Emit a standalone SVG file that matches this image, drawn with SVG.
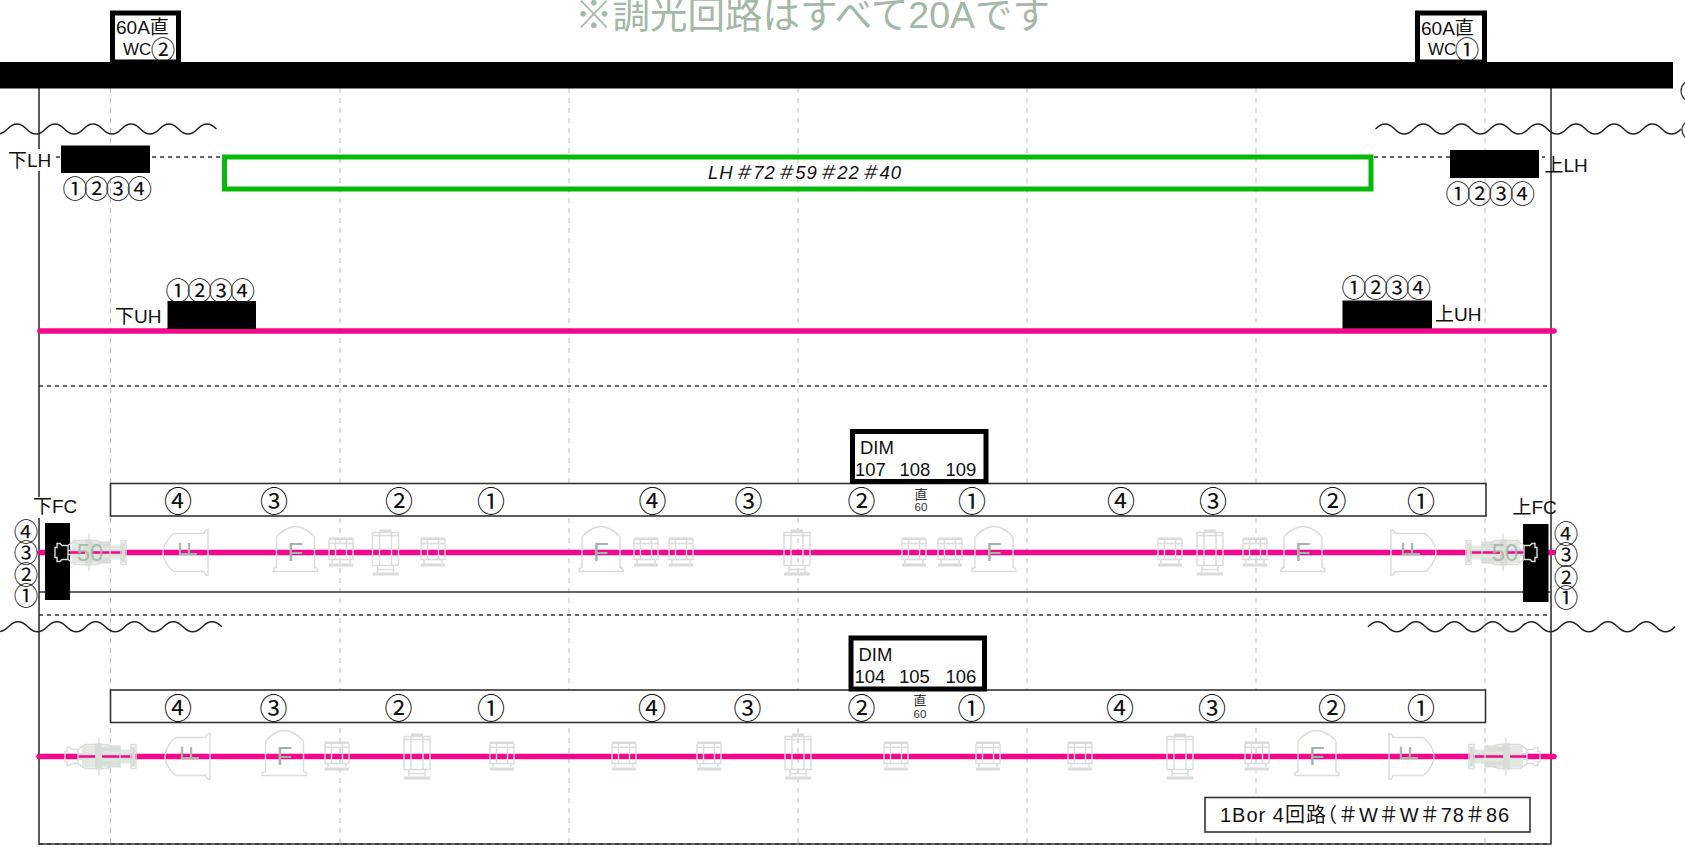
<svg xmlns="http://www.w3.org/2000/svg" width="1685" height="847" viewBox="0 0 1685 847">
<style>
text{font-family:"Liberation Sans","Noto Sans CJK JP",sans-serif;fill:#111}
.lb{font-size:19px}
.wc{font-size:17px}
.c{font-family:"Noto Sans CJK JP","Liberation Sans",sans-serif;font-size:28px;text-anchor:middle}
.cf{font-family:"Noto Sans CJK JP","Liberation Sans",sans-serif;font-size:24.500px;text-anchor:middle}
.c4{font-family:"Noto Sans CJK JP","Liberation Sans",sans-serif;font-size:25px;letter-spacing:-3.500px}
.d{font-size:18.500px}
.s{font-size:11.500px;text-anchor:middle;fill:#333}
.s2{font-size:13px;text-anchor:middle;fill:#333}
.fx *{stroke:#d6ded5;fill:none;stroke-width:1.400}
.fx .sol{fill:#d6ded5;stroke:none}
.fx .band{fill:#e3e8e2;stroke:none}
.gl{fill:#a3b4a6;font-size:26px}
.g5{fill:#a3b4a6;font-size:24px;text-anchor:middle;opacity:.85}
.gv{stroke:#bdbdbd;stroke-width:1;stroke-dasharray:5 5;fill:none}
.blk{fill:#000}
.bx{fill:#fff;stroke:#000;stroke-width:5}
.row{fill:#fff;stroke:#333;stroke-width:1.600}
.pink{stroke:#f5078c;stroke-width:5.500;stroke-linecap:round;fill:none}
.ln{stroke:#333;stroke-width:1.600;fill:none}
.dash{stroke:#333;stroke-width:1.400;stroke-dasharray:4 4;fill:none}
.wave{stroke:#222;stroke-width:1.400;fill:none}
</style>
<defs>
<g id="sm" class="fx">
<rect class="sol" x="-12" y="-15" width="24" height="2.500"/>
<path d="M-12,-13V7H12V-13M-5.500,-13V7M5.500,-13V7M-12,-9H12M-9,7V11M9,7V11"/>
<rect class="sol" x="-12" y="11" width="24" height="3"/>
</g>
<g id="tl" class="fx">
<rect class="sol" x="-6" y="-23" width="12" height="2.500"/>
<path d="M-13,-20H13V13H-13ZM-13,-17H13M-6,-20V13M6,-20V13M-8,13V20M8,13V20M-8,17H8"/>
<rect class="sol" x="-13" y="20" width="26" height="3"/>
</g>
<g id="fl" class="fx">
<path d="M-22,19Q-23,16 -19,15V-15Q-16,-20 -8,-24Q0,-28 8,-24Q16,-20 19,-15V15Q23,16 22,19Z"/>
</g>
<g id="ln" class="fx">
<path d="M19,-23Q16,-23 15,-19H-15Q-20,-16 -24,-8Q-28,0 -24,8Q-20,16 -15,19H15Q16,23 19,23Z"/>
</g>
<g id="fifty" class="fx">
<rect class="band" x="17" y="-11" width="38" height="9"/>
<rect class="band" x="17" y="2" width="38" height="9"/>
<rect class="sol" x="36" y="-9" width="19" height="4"/>
<rect class="sol" x="36" y="5" width="19" height="4"/>
<rect class="sol" x="30" y="-13" width="7" height="26"/>
<rect class="sol" x="67" y="-10" width="3" height="20"/>
<rect class="band" x="55" y="-7" width="12" height="5"/>
<rect class="band" x="55" y="2" width="12" height="5"/>
<path d="M13,-7H7L5,-9H2V-5H0V5H2V9H5L7,7H13M13,-7L20,-12H42L46,-10H55V10H46L42,12H20L13,7ZM34,-19V19M13,-2H66M13,2H66M66,-12H71V12H66Z"/>
</g>
</defs>
<rect width="1685" height="847" fill="#fff"/>
<g id="connectors">
<path class="gv" d="M110.500,88V847M340,88V847M569,88V847M798,88V847M1027,88V847M1256,88V847M1485,88V847"/>
<path class="ln" d="M39,88V844H1551V88"/>
<path class="dash" d="M39,844H1551M39,386H1551M39,615H1551M56,157H222M1374,157H1545"/>
<path class="ln" d="M39,592H1551"/>
<path class="wave" d="M-11.500,129q9.500,10 19,0t19,0t19,0t19,0t19,0t19,0t19,0t19,0t19,0t19,0t19,0t19,0"/>
<path class="wave" d="M1375.500,129q9.550,-10 19.100,0t19.100,0t19.100,0t19.100,0t19.100,0t19.100,0t19.100,0t19.100,0t19.100,0t19.100,0t19.100,0t19.100,0t19.100,0t19.100,0t19.100,0t19.100,0"/>
<path class="wave" d="M-11,626.700q9.700,10 19.400,0t19.400,0t19.400,0t19.400,0t19.400,0t19.400,0t19.400,0t19.400,0t19.400,0t19.400,0t19.400,0t19.400,0"/>
<path class="wave" d="M1368,626.700q9.600,-10 19.200,0t19.200,0t19.200,0t19.200,0t19.200,0t19.200,0t19.200,0t19.200,0t19.200,0t19.200,0t19.200,0t19.200,0t19.200,0t19.200,0t19.200,0t19.200,0"/>
<path class="pink" d="M40,331H1554M40,552.500H1553M39,756.500H1554"/>
</g>
<g id="edge-marks">
<circle cx="1692" cy="91" r="11" fill="none" stroke="#333" stroke-width="1.200"/>
<circle cx="1692" cy="130" r="10" fill="none" stroke="#333" stroke-width="1.200"/>
</g>
<g id="title"><text x="575" y="28" style="fill:#a3b8a5;font-size:37.500px">※調光回路はすべて20Aです</text></g>
<g id="busbar"><rect class="blk" x="0" y="62" width="1673" height="26.500"/></g>
<g id="wc2"><rect class="bx" x="112.500" y="13" width="66" height="49"/><text class="lb" x="116" y="34">60A直</text><text class="wc" x="123" y="55">WC</text><text class="cf" x="163" y="58.500">②</text></g>
<g id="wc1"><rect class="bx" x="1417.500" y="13" width="67" height="49"/><text class="lb" x="1421" y="35">60A直</text><text class="wc" x="1428" y="55">WC</text><text class="cf" x="1467" y="58.500">①</text></g>
<g id="lh-bar"><rect x="224.500" y="157" width="1146.500" height="32" fill="none" stroke="#06b90a" stroke-width="5"/><text x="805" y="179" font-size="18.500" letter-spacing="1" font-style="italic" text-anchor="middle">LH＃72＃59＃22＃40</text></g>
<g id="lower-lh"><rect x="9" y="149" width="46" height="22" fill="#fff"/><rect class="blk" x="61" y="145.500" width="89" height="27.500"/><text class="lb" x="8" y="167">下LH</text><text class="c4" x="62.500" y="197.500">①②③④</text></g>
<g id="upper-lh"><rect class="blk" x="1450" y="150" width="89" height="28"/><text class="lb" x="1544.500" y="172">上LH</text><text class="c4" x="1445.500" y="202.500">①②③④</text></g>
<g id="lower-uh"><rect class="blk" x="167.500" y="301" width="88.500" height="28"/><text class="lb" x="115" y="323">下UH</text><text class="c4" x="165.500" y="299.500">①②③④</text></g>
<g id="upper-uh"><rect class="blk" x="1342.500" y="300.500" width="89.500" height="28"/><text class="lb" x="1435" y="321">上UH</text><text class="c4" x="1341.500" y="296.500">①②③④</text></g>
<g id="lower-fc"><rect x="34" y="497" width="46" height="21" fill="#fff"/><rect class="blk" x="45" y="523" width="25" height="77"/><text class="lb" x="33" y="513">下FC</text><text class="cf" x="26" y="541">④</text><text class="cf" x="26" y="561.500">③</text><text class="cf" x="26" y="583.500">②</text><text class="cf" x="26" y="604.500">①</text></g>
<g id="upper-fc"><rect class="blk" x="1523" y="524" width="25.500" height="78"/><text class="lb" x="1512.500" y="514">上FC</text><text class="cf" x="1566" y="542.500">④</text><text class="cf" x="1566" y="563.500">③</text><text class="cf" x="1566" y="586.500">②</text><text class="cf" x="1566" y="606.500">①</text></g>
<g id="row-a">
<rect class="row" x="110.500" y="483.500" width="1375.500" height="32.500"/>
<text class="c" x="178" y="512.300">④</text><text class="c" x="274" y="512.300">③</text><text class="c" x="399" y="512.300">②</text><text class="c" x="491" y="512.300">①</text><text class="c" x="652.500" y="512.300">④</text><text class="c" x="748.500" y="512.300">③</text><text class="c" x="861.500" y="512.300">②</text><text class="c" x="972" y="512.300">①</text><text class="c" x="1121" y="512.300">④</text><text class="c" x="1213" y="512.300">③</text><text class="c" x="1332.500" y="512.300">②</text><text class="c" x="1421" y="512.300">①</text>
<text class="s2" x="921" y="498.500">直</text><text class="s" x="921" y="511">60</text>
</g>
<g id="dim-a"><rect class="bx" x="852.500" y="431.500" width="133.500" height="50"/><text class="d" x="860" y="454">DIM</text><text class="d" x="855" y="476">107</text><text class="d" x="899.500" y="476">108</text><text class="d" x="945.500" y="476">109</text></g>
<g id="row-b">
<rect class="row" x="110.500" y="690" width="1375" height="32.500"/>
<text class="c" x="178" y="718.600">④</text><text class="c" x="273.500" y="718.600">③</text><text class="c" x="398.500" y="718.600">②</text><text class="c" x="491" y="718.600">①</text><text class="c" x="652" y="718.600">④</text><text class="c" x="747.500" y="718.600">③</text><text class="c" x="861.500" y="718.600">②</text><text class="c" x="971.500" y="718.600">①</text><text class="c" x="1120" y="718.600">④</text><text class="c" x="1212" y="718.600">③</text><text class="c" x="1332" y="718.600">②</text><text class="c" x="1421" y="718.600">①</text>
<text class="s2" x="920" y="704.500">直</text><text class="s" x="920" y="718">60</text>
</g>
<g id="dim-b"><rect class="bx" x="851" y="638" width="133.500" height="51"/><text class="d" x="858.500" y="661">DIM</text><text class="d" x="854.500" y="682.500">104</text><text class="d" x="899" y="682.500">105</text><text class="d" x="945.500" y="682.500">106</text></g>
<g id="note"><rect x="1205" y="797.500" width="325" height="34.500" fill="#fff" stroke="#333" stroke-width="1.600"/><text x="1220" y="822" font-size="20" letter-spacing="1">1Bor 4回路<tspan dx="-10">（</tspan>＃W＃W＃78＃86</text></g>
<g id="fixtures-a">
<g id="a-50l"><use href="#fifty" x="55" y="552.500"/><text class="g5" x="90" y="561">50</text></g>
<g id="a-ll"><use href="#ln" x="189" y="552.500"/><text class="gl" transform="translate(197,557.500) rotate(-90)">F</text></g>
<g id="a-f1"><use href="#fl" x="295.500" y="552.500"/><text class="gl" x="295.500" y="560.500" text-anchor="middle">F</text></g>
<use id="a-s1" href="#sm" x="341" y="552.500"/><use id="a-t1" href="#tl" x="385.500" y="552.500"/><use id="a-s2" href="#sm" x="433" y="552.500"/>
<g id="a-f2"><use href="#fl" x="601" y="552.500"/><text class="gl" x="601" y="560.500" text-anchor="middle">F</text></g>
<use id="a-s3" href="#sm" x="646" y="552.500"/><use id="a-s4" href="#sm" x="681" y="552.500"/><use id="a-t2" href="#tl" x="797" y="552.500"/><use id="a-s5" href="#sm" x="914" y="552.500"/><use id="a-s6" href="#sm" x="950" y="552.500"/>
<g id="a-f3"><use href="#fl" x="994" y="552.500"/><text class="gl" x="994" y="560.500" text-anchor="middle">F</text></g>
<use id="a-s7" href="#sm" x="1170" y="552.500"/><use id="a-t3" href="#tl" x="1210" y="552.500"/><use id="a-s8" href="#sm" x="1255" y="552.500"/>
<g id="a-f4"><use href="#fl" x="1303" y="552.500"/><text class="gl" x="1303" y="560.500" text-anchor="middle">F</text></g>
<g id="a-lr"><use href="#ln" transform="translate(1410,552.500) scale(-1,1)"/><text class="gl" transform="translate(1420,557.500) rotate(-90)">F</text></g>
<g id="a-50r"><use href="#fifty" transform="translate(1537,552.500) scale(-1,1)"/><text class="g5" x="1505" y="561">50</text></g>
</g>
<g id="fixtures-b">
<use id="b-50l" href="#fifty" x="65" y="756.500"/>
<g id="b-ll"><use href="#ln" x="191" y="756.500"/><text class="gl" transform="translate(199,761.500) rotate(-90)">F</text></g>
<g id="b-f1"><use href="#fl" x="284.500" y="756.500"/><text class="gl" x="284.500" y="764.500" text-anchor="middle">F</text></g>
<use id="b-s1" href="#sm" x="337" y="756.500"/><use id="b-t1" href="#tl" x="417" y="756.500"/><use id="b-s2" href="#sm" x="502" y="756.500"/><use id="b-s3" href="#sm" x="624" y="756.500"/><use id="b-s4" href="#sm" x="709" y="756.500"/><use id="b-t2" href="#tl" x="798" y="756.500"/><use id="b-s5" href="#sm" x="896" y="756.500"/><use id="b-s6" href="#sm" x="988" y="756.500"/><use id="b-s7" href="#sm" x="1080" y="756.500"/><use id="b-t3" href="#tl" x="1180" y="756.500"/><use id="b-s8" href="#sm" x="1257" y="756.500"/>
<g id="b-f2"><use href="#fl" x="1317" y="756.500"/><text class="gl" x="1317" y="764.500" text-anchor="middle">F</text></g>
<g id="b-lr"><use href="#ln" transform="translate(1408,756.500) scale(-1,1)"/><text class="gl" transform="translate(1418,761.500) rotate(-90)">F</text></g>
<use id="b-50r" href="#fifty" transform="translate(1540,756.500) scale(-1,1)"/>
</g>
</svg>
